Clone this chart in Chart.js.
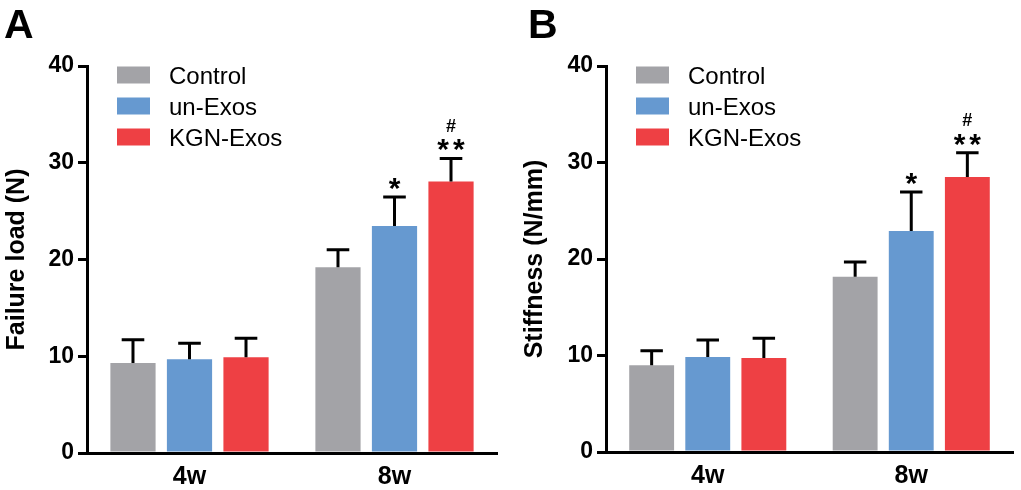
<!DOCTYPE html>
<html><head><meta charset="utf-8">
<script src="https://cdn.jsdelivr.net/npm/chart.js@4.4.0/dist/chart.umd.min.js"></script>
<style>
html,body{margin:0;padding:0;background:#fff;}
#wrap{position:relative;width:1021px;height:490px;overflow:hidden;background:#fff}
.panel{position:absolute;top:0;height:490px}
</style></head><body>
<div id="wrap">
<div class="panel" style="left:0;width:510px"><canvas id="cA" width="510" height="490"></canvas></div>
<div class="panel" style="left:510px;width:511px"><canvas id="cB" width="511" height="490"></canvas></div>
</div>
<script>
// ---- data ----
const categories = ['4w', '8w'];
const seriesNames = ['Control', 'un-Exos', 'KGN-Exos'];
const seriesColors = ['#a3a3a7', '#6699d0', '#ee4044'];
const yTicks = [0, 10, 20, 30, 40];

// Panel A: Failure load (N)
const failureControl = [9.3, 19.2];
const failureUnExos = [9.7, 23.45];
const failureKGN = [9.9, 28.05];
const failureControlErr = [2.4, 1.8];
const failureUnExosErr = [1.65, 3.0];
const failureKGNErr = [1.95, 2.4];
const failureStars = [['', ''], ['', '*'], ['', '**']];
const failureHash = [['', ''], ['', ''], ['', '#']];

// Panel B: Stiffness (N/mm)
const stiffControl = [9.0, 18.15];
const stiffUnExos = [9.85, 22.9];
const stiffKGN = [9.75, 28.5];
const stiffControlErr = [1.5, 1.55];
const stiffUnExosErr = [1.75, 4.05];
const stiffKGNErr = [2.05, 2.5];
const stiffStars = [['', ''], ['', '*'], ['', '**']];
const stiffHash = [['', ''], ['', ''], ['', '#']];

const FONT = '"Liberation Sans", Arial, sans-serif';

// ---- plugins ----
const errorBarPlugin = {
  id: 'errorBars',
  afterDatasetsDraw(chart, args, o) {
    const ctx = chart.ctx;
    const ys = chart.scales.y;
    chart.data.datasets.forEach((ds, di) => {
      const meta = chart.getDatasetMeta(di);
      meta.data.forEach((bar, i) => {
        const v = ds.data[i], e = ds.errors[i];
        const yTop = ys.getPixelForValue(v + e);
        const yBar = ys.getPixelForValue(v);
        const capW = bar.width * 0.5;
        ctx.save();
        ctx.strokeStyle = '#000';
        ctx.lineWidth = 3;
        ctx.lineCap = 'butt';
        ctx.beginPath();
        ctx.moveTo(bar.x, yBar);
        ctx.lineTo(bar.x, yTop);
        ctx.moveTo(bar.x - capW / 2, yTop);
        ctx.lineTo(bar.x + capW / 2, yTop);
        ctx.stroke();
        const drawCentered = (txt, font, cy, spacing) => {
          if (!txt) return;
          ctx.font = font;
          ctx.letterSpacing = spacing + 'px';
          ctx.fillStyle = '#000';
          ctx.textAlign = 'center';
          ctx.textBaseline = 'alphabetic';
          const m = ctx.measureText(txt);
          const base = cy + (m.actualBoundingBoxAscent - m.actualBoundingBoxDescent) / 2;
          // letterSpacing adds trailing space; shift to keep ink centered
          ctx.fillText(txt, bar.x + spacing / 2, base);
          ctx.letterSpacing = '0px';
        };
        drawCentered(ds.stars[i], 'bold 30px ' + FONT, yTop - o.starOffset, 4);
        drawCentered(ds.hash[i], 'bold 18px ' + FONT, yTop - o.hashOffset, 0);
        ctx.restore();
      });
    });
  }
};

const legendPlugin = {
  id: 'customLegend',
  afterDraw(chart, args, o) {
    const ctx = chart.ctx;
    const ca = chart.chartArea;
    ctx.save();
    chart.data.datasets.forEach((ds, i) => {
      const cy = o.top + i * o.spacing;
      ctx.fillStyle = ds.backgroundColor;
      ctx.fillRect(ca.left + o.boxLeft, cy - o.boxH / 2, o.boxW, o.boxH);
      ctx.fillStyle = '#000';
      ctx.font = '24px ' + FONT;
      ctx.textAlign = 'left';
      ctx.textBaseline = 'alphabetic';
      const m = ctx.measureText('C');
      ctx.fillText(ds.label, ca.left + o.textLeft, cy + m.actualBoundingBoxAscent / 2);
    });
    ctx.font = 'bold 41px ' + FONT;
    ctx.textAlign = 'left';
    ctx.textBaseline = 'alphabetic';
    ctx.fillText(o.letter, o.letterX, o.letterY);
    ctx.restore();
  }
};

function makeChart(id, cfg) {
  const sets = [cfg.control, cfg.unexos, cfg.kgn];
  const errs = [cfg.controlErr, cfg.unexosErr, cfg.kgnErr];
  return new Chart(document.getElementById(id), {
    type: 'bar',
    data: {
      labels: categories,
      datasets: seriesNames.map((n, i) => ({
        label: n,
        data: sets[i],
        errors: errs[i],
        stars: cfg.stars[i],
        hash: cfg.hash[i],
        backgroundColor: seriesColors[i],
        borderWidth: 0,
        categoryPercentage: 0.827,
        barPercentage: 0.8
      }))
    },
    options: {
      responsive: false,
      animation: false,
      devicePixelRatio: 1,
      layout: { padding: { top: 66, right: cfg.padRight, bottom: 0, left: 0 } },
      plugins: {
        legend: { display: false },
        tooltip: { enabled: false },
        errorBars: { starOffset: 13, hashOffset: 33 },
        customLegend: { top: 75, spacing: 31, boxLeft: 30, boxW: 33, boxH: 17, textLeft: 82,
                        letter: cfg.letter, letterX: cfg.letterX, letterY: 38 }
      },
      scales: {
        x: {
          afterFit: s => { s.height = cfg.xHeight; },
          border: { display: true, color: '#000', width: 3 },
          grid: { display: true, drawOnChartArea: false, drawTicks: false },
          ticks: { color: '#000', padding: 9, font: { family: FONT, size: 25, weight: 'bold' } }
        },
        y: {
          min: 0, max: 40,
          afterBuildTicks: s => { s.ticks = yTicks.map(v => ({ value: v })); },
          afterFit: s => { s.width = cfg.yWidth; },
          border: { display: true, color: '#000', width: 3 },
          grid: { display: true, drawOnChartArea: false, drawTicks: true, tickLength: 9, color: '#000', lineWidth: 3 },
          ticks: { color: '#000', padding: 4, font: { family: FONT, size: 23, weight: 'bold' } },
          title: { display: true, text: cfg.title, color: '#000', padding: { top: cfg.titlePad, bottom: 0 },
                   font: { family: FONT, size: 25, weight: 'bold' } }
        }
      }
    },
    plugins: [errorBarPlugin, legendPlugin]
  });
}

makeChart('cA', {
  control: failureControl, unexos: failureUnExos, kgn: failureKGN,
  controlErr: failureControlErr, unexosErr: failureUnExosErr, kgnErr: failureKGNErr,
  stars: failureStars, hash: failureHash,
  title: 'Failure load (N)', letter: 'A', letterX: 4,
  yWidth: 87, xHeight: 37, padRight: 13, titlePad: 2
});
makeChart('cB', {
  control: stiffControl, unexos: stiffUnExos, kgn: stiffKGN,
  controlErr: stiffControlErr, unexosErr: stiffUnExosErr, kgnErr: stiffKGNErr,
  stars: stiffStars, hash: stiffHash,
  title: 'Stiffness (N/mm)', letter: 'B', letterX: 18,
  yWidth: 96, xHeight: 38, padRight: 8, titlePad: 10
});
</script>
</body></html>
